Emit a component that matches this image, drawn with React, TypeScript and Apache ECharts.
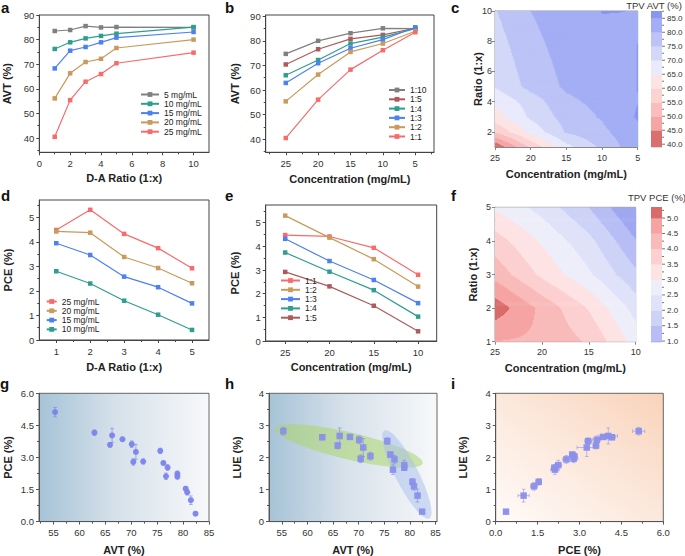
import React, { useEffect, useRef } from "react";
import * as echarts from "echarts";

// ---------------- data ----------------
const ratios = [1, 2, 3, 4, 5, 10];
const concentrations = [25, 20, 15, 10, 5];
// AVT (%) at D-A ratios 1,2,3,4,5,10 for each concentration
const avt5 = [83.5, 83.9, 85.5, 84.95, 85.1, 84.95];
const avt10 = [76.2, 78.9, 80.5, 81.5, 82.4, 85.1];
const avt15 = [68.3, 75.5, 77.0, 78.9, 80.8, 83.1];
const avt20 = [56.1, 66.3, 70.9, 72.2, 76.6, 80.0];
const avt25 = [40.5, 55.4, 62.9, 66.0, 70.4, 74.7];

const pceRatios = [1, 2, 3, 4, 5];
const pceConcentrations = [25, 20, 15, 10];
// PCE (%) at D-A ratios 1..5 for each concentration
const pce25 = [4.48, 5.3, 4.32, 3.74, 2.92];
const pce20 = [4.42, 4.37, 3.38, 2.93, 2.31];
const pce15 = [3.94, 3.46, 2.58, 2.15, 1.49];
const pce10 = [2.8, 2.3, 1.6, 1.03, 0.41];

// TPV devices (g, h, i)
const tpvAVT = [55.3, 62.9, 65.9, 66.3, 68.3, 70.1, 70.4, 70.9, 72.3, 75.6, 76.2, 76.7, 77.0, 78.9, 78.9, 80.5, 80.8, 81.5, 82.4];
const tpvPCE = [5.12, 4.16, 3.59, 4.03, 3.85, 3.62, 2.79, 3.26, 2.81, 3.31, 2.74, 2.12, 2.53, 2.24, 2.1, 1.54, 1.37, 1.0, 0.37];
const tpvLUE = [2.82, 2.63, 2.37, 2.67, 2.64, 2.55, 1.96, 2.31, 2.04, 2.51, 2.09, 1.62, 1.94, 1.76, 1.68, 1.24, 1.1, 0.81, 0.31];
const pceErr = [0.22, 0.12, 0.1, 0.33, 0.1, 0.15, 0.15, 0.35, 0.12, 0.12, 0.1, 0.15, 0.13, 0.12, 0.1, 0.1, 0.12, 0.2, 0.05];
const lueErr = [0.12, 0.08, 0.1, 0.25, 0.06, 0.12, 0.12, 0.28, 0.12, 0.1, 0.08, 0.15, 0.12, 0.15, 0.08, 0.1, 0.12, 0.2, 0.03];

// grouping ellipses in h: major-axis end points (AVT, LUE)
const ellipseGreen = [53.7, 2.9, 82.5, 1.82];
const ellipseBlue = [75.05, 2.84, 83.8, 0.1];

// contour levels
const avtLevels = [45, 50, 55, 60, 65, 70, 75, 80, 85];
const pceLevels = [1.0, 1.5, 2.0, 2.5, 3.0, 3.5, 4.0, 4.5, 5.0];

// tick labels
const aXTicks = [0, 2, 4, 6, 8, 10];
const avtTicks10 = [40, 50, 60, 70, 80, 90];
const concTicks5 = [25, 20, 15, 10, 5];
const concTicks4 = [25, 20, 15, 10];
const cRatioTicks = [2, 4, 6, 8, 10];
const ratioTicks5 = [1, 2, 3, 4, 5];
const pceTicks = [0, 1, 2, 3, 4, 5];
const avtScatterTicks = [55, 60, 65, 70, 75, 80, 85];
const pce15Ticks = [0, 1.5, 3, 4.5, 6];
const lueTicks = [0, 1, 2, 3, 4];
const cbAvtTicks = [40, 45, 50, 55, 60, 65, 70, 75, 80, 85];
const cbAvtMinor = [42.5, 47.5, 52.5, 57.5, 62.5, 67.5, 72.5, 77.5, 82.5, 87.5];
const cbPceTicks = [1.0, 1.5, 2.0, 2.5, 3.0, 3.5, 4.0, 4.5, 5.0];
const cbPceMinor = [1.25, 1.75, 2.25, 2.75, 3.25, 3.75, 4.25, 4.75, 5.25];

// ---------------- styles / layout ----------------
const FONT = "'Liberation Sans', Arial, Helvetica, sans-serif";
const C_GRAY = "#808080";
const C_TEAL = "#2f9e90";
const C_BLUE = "#4d80f0";
const C_TAN = "#c99a5b";
const C_RED = "#f76b6b";
const C_BROWN = "#ad5a5c";
const avtColors = ["#d8706f", "#f6a5a5", "#fabdbd", "#fcd3d3", "#fde4e4", "#e9eafb", "#d3d8f8", "#bcc3f6", "#a3aef4", "#8a97ee"];
const pceColors = ["#9ea7f0", "#b6bef5", "#cdd2f7", "#dfe2f9", "#eeeefb", "#fde3e3", "#fcd0d0", "#f9baba", "#f6a3a3", "#d96b6b"];
const CB1 = { left: 651, top: 11, width: 11, height: 136, min: 39, max: 87.6 };
const CB2 = { left: 651, top: 207, width: 11, height: 135, min: 0.97, max: 5.36 };

function levelIndex(v: number, levels: number[]) {
  let n = 0;
  for (const l of levels) if (v >= l) n++;
  return n;
}

type AxisSpec = {
  grid: number;
  min: number;
  max: number;
  ticks: number[];
  minor?: number[];
  inverse?: boolean;
  name?: string;
  gap?: number;
  dec?: number;
  pos?: string;
  color?: string;
  labelSize?: number;
  margin?: number;
};

function addAxis(list: any[], s: AxisSpec, isX: boolean): number {
  const idx = list.length;
  const line = s.color || "#444";
  const position = s.pos || (isX ? "bottom" : "left");
  const axis: any = {
    type: "value",
    gridIndex: s.grid,
    min: s.min,
    max: s.max,
    inverse: !!s.inverse,
    position,
    axisLine: { show: true, onZero: false, lineStyle: { color: line, width: 1 } },
    axisTick: { show: true, length: 3, customValues: s.ticks, lineStyle: { color: line, width: 1 } },
    axisLabel: {
      show: true,
      customValues: s.ticks,
      margin: s.margin ?? (isX ? 6 : 5),
      fontSize: s.labelSize ?? 9.5,
      color: "#333",
      fontFamily: FONT,
      hideOverlap: false,
      formatter: (v: number) => (s.dec ? Number(v).toFixed(s.dec) : String(v)),
    },
    splitLine: { show: false },
  };
  if (s.name) {
    axis.name = s.name;
    axis.nameLocation = "middle";
    axis.nameGap = s.gap;
    axis.nameRotate = isX ? 0 : 90;
    axis.nameMoveOverlap = false;
    axis.nameTextStyle = { fontFamily: FONT, fontSize: 11, fontWeight: "bold", color: "#222" };
  }
  list.push(axis);
  if (s.minor) {
    list.push({
      type: "value",
      gridIndex: s.grid,
      min: s.min,
      max: s.max,
      inverse: !!s.inverse,
      position,
      axisLine: { show: false, onZero: false },
      axisTick: { show: true, length: 2, customValues: s.minor, lineStyle: { color: line, width: 1 } },
      axisLabel: { show: false },
      splitLine: { show: false },
    });
  }
  return idx;
}

function lineSeries(name: string, color: string, xi: number, yi: number, xs: number[], ys: number[]) {
  return {
    type: "line",
    name,
    xAxisIndex: xi,
    yAxisIndex: yi,
    data: xs.map((x, k) => [x, ys[k]]),
    symbol: "rect",
    symbolSize: 4.5,
    lineStyle: { color, width: 1.2 },
    itemStyle: { color },
    color,
  };
}

function contourSeries(xi: number, yi: number, xs: number[], ys: number[], vals: number[][], levels: number[], colors: string[]) {
  const data: number[][] = [];
  for (let i = 0; i < xs.length - 1; i++) for (let j = 0; j < ys.length - 1; j++) data.push([xs[i], ys[j], i, j]);
  return {
    type: "custom",
    xAxisIndex: xi,
    yAxisIndex: yi,
    clip: true,
    silent: true,
    encode: { x: 0, y: 1 },
    data,
    renderItem: (params: any, api: any) => {
      const i = api.value(2) as number;
      const j = api.value(3) as number;
      const pA = api.coord([xs[i], ys[j]]);
      const pB = api.coord([xs[i + 1], ys[j + 1]]);
      const v00 = vals[i][j], v10 = vals[i + 1][j], v01 = vals[i][j + 1], v11 = vals[i + 1][j + 1];
      const left = Math.min(pA[0], pB[0]), right = Math.max(pA[0], pB[0]);
      const top = Math.min(pA[1], pB[1]), bottom = Math.max(pA[1], pB[1]);
      const w = right - left, h = bottom - top;
      const nc = Math.max(1, Math.round(w)), nr = Math.max(1, Math.round(h));
      const cw = w / nc, rh = h / nr;
      const children: any[] = [];
      for (let r = 0; r < nr; r++) {
        const py = top + (r + 0.5) * rh;
        const t = (py - pA[1]) / (pB[1] - pA[1]);
        let start = 0;
        let cur = -1;
        for (let c = 0; c <= nc; c++) {
          let lvl = -1;
          if (c < nc) {
            const px = left + (c + 0.5) * cw;
            const s = (px - pA[0]) / (pB[0] - pA[0]);
            const v = v00 * (1 - s) * (1 - t) + v10 * s * (1 - t) + v01 * (1 - s) * t + v11 * s * t;
            lvl = levelIndex(v, levels);
          }
          if (c === 0) {
            cur = lvl;
            continue;
          }
          if (lvl !== cur) {
            children.push({
              type: "rect",
              shape: { x: left + start * cw, y: top + r * rh, width: (c - start) * cw + 0.7, height: rh + 0.7 },
              style: { fill: colors[cur] },
            });
            start = c;
            cur = lvl;
          }
        }
      }
      return { type: "group", children };
    },
  };
}

function colorbarSeries(xi: number, yi: number, levels: number[], colors: string[], lo: number, hi: number) {
  return {
    type: "custom",
    xAxisIndex: xi,
    yAxisIndex: yi,
    silent: true,
    encode: { x: 0, y: 1 },
    data: colors.map((c, k) => [0, k === 0 ? lo : levels[k - 1], k]),
    renderItem: (params: any, api: any) => {
      const k = api.value(2) as number;
      const b = k === 0 ? lo : levels[k - 1];
      const t = k === levels.length ? hi : levels[k];
      const p0 = api.coord([0, b]);
      const p1 = api.coord([1, t]);
      return {
        type: "rect",
        shape: { x: p0[0], y: p1[1], width: p1[0] - p0[0], height: p0[1] - p1[1] + 0.3 },
        style: { fill: colors[k] },
      };
    },
  };
}

function colorbarTickSeries(xi: number, yi: number, ticks: number[], minors: number[]) {
  return {
    type: "custom",
    xAxisIndex: xi,
    yAxisIndex: yi,
    silent: true,
    encode: { x: 0, y: 1 },
    data: [...ticks.map((v) => [1, v, 3]), ...minors.map((v) => [1, v, 2])],
    renderItem: (params: any, api: any) => {
      const v = api.value(1) as number;
      const len = api.value(2) as number;
      const p = api.coord([1, v]);
      return { type: "line", shape: { x1: p[0], y1: p[1], x2: p[0] + len, y2: p[1] }, style: { stroke: "#777", lineWidth: 1 } };
    },
  };
}

// colorbar tick labels: one multi-line text, line pitch = one level step
function colorbarLabels(cb: typeof CB1, ticks: number[]) {
  const desc = [...ticks].sort((a, b) => b - a);
  const step = desc[0] - desc[1];
  const lh = (step / (cb.max - cb.min)) * cb.height;
  const yTop = cb.top + ((cb.max - desc[0]) / (cb.max - cb.min)) * cb.height - lh / 2;
  return {
    type: "text",
    x: cb.left + cb.width + 5,
    y: yTop,
    style: {
      text: desc.map((v) => v.toFixed(1)).join("\n"),
      font: `8px ${FONT}`,
      lineHeight: lh,
      fill: "#333",
      textAlign: "left",
      textVerticalAlign: "top",
    },
  };
}

function errorSeries(xi: number, yi: number, xs: number[], ys: number[], errs: number[], vertical: boolean, color: string) {
  return {
    type: "custom",
    xAxisIndex: xi,
    yAxisIndex: yi,
    silent: true,
    z: 3,
    encode: { x: 0, y: 1 },
    data: xs.map((x, k) => [x, ys[k], errs[k]]),
    renderItem: (params: any, api: any) => {
      const x = api.value(0), y = api.value(1), e = api.value(2);
      const p0 = vertical ? api.coord([x, y - e]) : api.coord([x - e, y]);
      const p1 = vertical ? api.coord([x, y + e]) : api.coord([x + e, y]);
      const cap = 1.8;
      const st = { stroke: color, lineWidth: 0.9 };
      const capLine = (p: number[]) =>
        vertical
          ? { type: "line", shape: { x1: p[0] - cap, y1: p[1], x2: p[0] + cap, y2: p[1] }, style: st }
          : { type: "line", shape: { x1: p[0], y1: p[1] - cap, x2: p[0], y2: p[1] + cap }, style: st };
      return {
        type: "group",
        children: [
          { type: "line", shape: { x1: p0[0], y1: p0[1], x2: p1[0], y2: p1[1] }, style: st },
          capLine(p0),
          capLine(p1),
        ],
      };
    },
  };
}

function ellipseSeries(xi: number, yi: number) {
  const fills = ["rgba(172,214,105,0.55)", "rgba(165,190,236,0.5)"];
  const widthRatio = [0.178, 0.232];
  return {
    type: "custom",
    xAxisIndex: xi,
    yAxisIndex: yi,
    silent: true,
    z: 1,
    encode: { x: 0, y: 1 },
    data: [
      [...ellipseGreen, 0],
      [...ellipseBlue, 1],
    ],
    renderItem: (params: any, api: any) => {
      const k = api.value(4) as number;
      const a = api.coord([api.value(0), api.value(1)]);
      const b = api.coord([api.value(2), api.value(3)]);
      const cx = (a[0] + b[0]) / 2, cy = (a[1] + b[1]) / 2;
      const dx = b[0] - a[0], dy = b[1] - a[1];
      const L = Math.hypot(dx, dy) / 2;
      const rb = L * widthRatio[k];
      const ang = Math.atan2(dy, dx);
      const ca = Math.cos(ang), sa = Math.sin(ang);
      const pts: number[][] = [];
      for (let n = 0; n < 72; n++) {
        const th = (n / 72) * Math.PI * 2;
        const ex = L * Math.cos(th), ey = rb * Math.sin(th);
        pts.push([cx + ex * ca - ey * sa, cy + ex * sa + ey * ca]);
      }
      return { type: "polygon", shape: { points: pts }, style: { fill: fills[k] } };
    },
  };
}

function buildOption() {
  const base = { show: true, borderColor: "#444", borderWidth: 1, backgroundColor: "transparent", containLabel: false };
  const gradBlue = {
    type: "linear", x: 0, y: 0, x2: 1, y2: 0,
    colorStops: [
      { offset: 0, color: "#a6c3d7" },
      { offset: 0.45, color: "#d6e1ea" },
      { offset: 1, color: "#f7f8fa" },
    ],
  };
  const gradPeach = {
    type: "linear", x: 1, y: 0, x2: 0, y2: 1,
    colorStops: [
      { offset: 0, color: "#f9d3ba" },
      { offset: 0.5, color: "#fce8dc" },
      { offset: 1, color: "#fffbf8" },
    ],
  };
  const grid = [
    { ...base, left: 39.3, top: 15, width: 169.7, height: 137.3 },
    { ...base, left: 265.7, top: 15, width: 168.3, height: 137.3 },
    { ...base, left: 495, top: 11, width: 142.7, height: 136, borderColor: "#999" },
    { ...base, left: 39.3, top: 200, width: 169.7, height: 140 },
    { ...base, left: 265.7, top: 205, width: 171, height: 136 },
    { ...base, left: 495, top: 207.3, width: 140.7, height: 134.4, borderColor: "#999" },
    { ...base, left: 39, top: 393.3, width: 170, height: 136, backgroundColor: gradBlue, borderColor: "#666" },
    { ...base, left: 269, top: 393.3, width: 168, height: 136, backgroundColor: gradBlue, borderColor: "#666" },
    { ...base, left: 495.7, top: 393.3, width: 167.6, height: 136, backgroundColor: gradPeach, borderColor: "#666" },
    { ...base, left: CB1.left, top: CB1.top, width: CB1.width, height: CB1.height, borderWidth: 0 },
    { ...base, left: CB2.left, top: CB2.top, width: CB2.width, height: CB2.height, borderWidth: 0 },
  ];

  const xAxis: any[] = [];
  const yAxis: any[] = [];

  const xa = addAxis(xAxis, { grid: 0, min: 0, max: 11, ticks: aXTicks, minor: [1, 3, 5, 7, 9], name: "D-A Ratio (1:x)", gap: 19.7 }, true);
  const ya = addAxis(yAxis, { grid: 0, min: 34.2, max: 90, ticks: avtTicks10, minor: [35, 45, 55, 65, 75, 85], name: "AVT (%)", gap: 27 }, false);

  const xb = addAxis(xAxis, { grid: 1, min: 2.1, max: 28.1, inverse: true, ticks: concTicks5, minor: [27.5, 22.5, 17.5, 12.5, 7.5, 2.5], name: "Concentration (mg/mL)", gap: 21.4 }, true);
  const yb = addAxis(yAxis, { grid: 1, min: 34.7, max: 90.5, ticks: avtTicks10, minor: [35, 45, 55, 65, 75, 85], name: "AVT (%)", gap: 25.7 }, false);

  const xc = addAxis(xAxis, { grid: 2, min: 5, max: 25, inverse: true, ticks: concTicks5, name: "Concentration (mg/mL)", gap: 21.3, color: "#888", labelSize: 9 }, true);
  const yc = addAxis(yAxis, { grid: 2, min: 1, max: 10, ticks: cRatioTicks, name: "Ratio (1:x)", gap: 11.5, color: "#888", labelSize: 9, margin: 3 }, false);

  const xd = addAxis(xAxis, { grid: 3, min: 0.5, max: 5.5, ticks: ratioTicks5, minor: [1.5, 2.5, 3.5, 4.5], name: "D-A Ratio (1:x)", gap: 21.7 }, true);
  const yd = addAxis(yAxis, { grid: 3, min: 0, max: 5.7, ticks: pceTicks, minor: [0.5, 1.5, 2.5, 3.5, 4.5, 5.5], name: "PCE (%)", gap: 26 }, false);

  const xe = addAxis(xAxis, { grid: 4, min: 7.9, max: 27.2, inverse: true, ticks: concTicks4, minor: [22.5, 17.5, 12.5], name: "Concentration (mg/mL)", gap: 20.7 }, true);
  const ye = addAxis(yAxis, { grid: 4, min: 0, max: 5.75, ticks: pceTicks, minor: [0.5, 1.5, 2.5, 3.5, 4.5, 5.5], name: "PCE (%)", gap: 25.7 }, false);

  const xf = addAxis(xAxis, { grid: 5, min: 10, max: 25, inverse: true, ticks: concTicks4, name: "Concentration (mg/mL)", gap: 20.6, color: "#888", labelSize: 9 }, true);
  const yf = addAxis(yAxis, { grid: 5, min: 1, max: 5, ticks: ratioTicks5, name: "Ratio (1:x)", gap: 17, color: "#888", labelSize: 9, margin: 4 }, false);

  const xg = addAxis(xAxis, { grid: 6, min: 52.2, max: 85, ticks: avtScatterTicks, minor: [52.5, 57.5, 62.5, 67.5, 72.5, 77.5, 82.5], name: "AVT (%)", gap: 22.4, color: "#555" }, true);
  const yg = addAxis(yAxis, { grid: 6, min: 0, max: 6, ticks: pce15Ticks, minor: [0.75, 2.25, 3.75, 5.25], dec: 1, name: "PCE (%)", gap: 26, color: "#555" }, false);

  const xh = addAxis(xAxis, { grid: 7, min: 52.5, max: 85.3, ticks: avtScatterTicks, minor: [57.5, 62.5, 67.5, 72.5, 77.5, 82.5], name: "AVT (%)", gap: 22.4, color: "#555" }, true);
  const yh = addAxis(yAxis, { grid: 7, min: 0, max: 4, ticks: lueTicks, minor: [0.5, 1.5, 2.5, 3.5], name: "LUE (%)", gap: 27, color: "#555" }, false);

  const xi = addAxis(xAxis, { grid: 8, min: 0, max: 6, ticks: pce15Ticks, minor: [0.75, 2.25, 3.75, 5.25], dec: 1, name: "PCE (%)", gap: 22.4, color: "#555" }, true);
  const yi = addAxis(yAxis, { grid: 8, min: 0, max: 4, ticks: lueTicks, minor: [0.5, 1.5, 2.5, 3.5], name: "LUE (%)", gap: 27.4, color: "#555" }, false);

  const xcb1 = xAxis.length;
  xAxis.push({ type: "value", gridIndex: 9, min: 0, max: 1, show: false });
  const ycb1 = yAxis.length;
  yAxis.push({ type: "value", gridIndex: 9, min: CB1.min, max: CB1.max, show: false });
  const xcb2 = xAxis.length;
  xAxis.push({ type: "value", gridIndex: 10, min: 0, max: 1, show: false });
  const ycb2 = yAxis.length;
  yAxis.push({ type: "value", gridIndex: 10, min: CB2.min, max: CB2.max, show: false });

  const avtByConc = [avt25, avt20, avt15, avt10, avt5];
  const pceByConc = [pce25, pce20, pce15, pce10];

  const series: any[] = [
    // a
    lineSeries("5 mg/mL", C_GRAY, xa, ya, ratios, avt5),
    lineSeries("10 mg/mL", C_TEAL, xa, ya, ratios, avt10),
    lineSeries("15 mg/mL", C_BLUE, xa, ya, ratios, avt15),
    lineSeries("20 mg/mL", C_TAN, xa, ya, ratios, avt20),
    lineSeries("25 mg/mL", C_RED, xa, ya, ratios, avt25),
    // b
    lineSeries("1:10", C_GRAY, xb, yb, concentrations, avtByConc.map((r) => r[5])),
    lineSeries("1:5", C_BROWN, xb, yb, concentrations, avtByConc.map((r) => r[4])),
    lineSeries("1:4", C_TEAL, xb, yb, concentrations, avtByConc.map((r) => r[3])),
    lineSeries("1:3", C_BLUE, xb, yb, concentrations, avtByConc.map((r) => r[2])),
    lineSeries("1:2", C_TAN, xb, yb, concentrations, avtByConc.map((r) => r[1])),
    lineSeries("1:1", C_RED, xb, yb, concentrations, avtByConc.map((r) => r[0])),
    // c
    contourSeries(xc, yc, concentrations, ratios, avtByConc, avtLevels, avtColors),
    colorbarSeries(xcb1, ycb1, avtLevels, avtColors, CB1.min, CB1.max),
    colorbarTickSeries(xcb1, ycb1, cbAvtTicks, cbAvtMinor),
    // d
    lineSeries("25 mg/mL", C_RED, xd, yd, pceRatios, pce25),
    lineSeries("20 mg/mL", C_TAN, xd, yd, pceRatios, pce20),
    lineSeries("15 mg/mL", C_BLUE, xd, yd, pceRatios, pce15),
    lineSeries("10 mg/mL", C_TEAL, xd, yd, pceRatios, pce10),
    // e
    lineSeries("1:1", C_RED, xe, ye, pceConcentrations, pceByConc.map((r) => r[0])),
    lineSeries("1:2", C_TAN, xe, ye, pceConcentrations, pceByConc.map((r) => r[1])),
    lineSeries("1:3", C_BLUE, xe, ye, pceConcentrations, pceByConc.map((r) => r[2])),
    lineSeries("1:4", C_TEAL, xe, ye, pceConcentrations, pceByConc.map((r) => r[3])),
    lineSeries("1:5", C_BROWN, xe, ye, pceConcentrations, pceByConc.map((r) => r[4])),
    // f
    contourSeries(xf, yf, pceConcentrations, pceRatios, pceByConc, pceLevels, pceColors),
    colorbarSeries(xcb2, ycb2, pceLevels, pceColors, CB2.min, CB2.max),
    colorbarTickSeries(xcb2, ycb2, cbPceTicks, cbPceMinor),
    // g
    errorSeries(xg, yg, tpvAVT, tpvPCE, pceErr, true, "rgba(120,130,232,0.7)"),
    {
      type: "scatter", xAxisIndex: xg, yAxisIndex: yg, z: 4, symbol: "circle", symbolSize: 6,
      data: tpvAVT.map((x, k) => [x, tpvPCE[k]]),
      itemStyle: { color: "#7b84ec", opacity: 0.95 },
    },
    // h
    ellipseSeries(xh, yh),
    errorSeries(xh, yh, tpvAVT, tpvLUE, lueErr, true, "rgba(130,138,232,0.7)"),
    {
      type: "scatter", xAxisIndex: xh, yAxisIndex: yh, z: 4, symbol: "rect", symbolSize: 6.5,
      data: tpvAVT.map((x, k) => [x, tpvLUE[k]]),
      itemStyle: { color: "#8a90ea", opacity: 0.95 },
    },
    // i
    errorSeries(xi, yi, tpvPCE, tpvLUE, pceErr, false, "rgba(150,155,235,0.7)"),
    errorSeries(xi, yi, tpvPCE, tpvLUE, lueErr, true, "rgba(150,155,235,0.7)"),
    {
      type: "scatter", xAxisIndex: xi, yAxisIndex: yi, z: 4, symbol: "rect", symbolSize: 6.5,
      data: tpvPCE.map((x, k) => [x, tpvLUE[k]]),
      itemStyle: { color: "#8a90ea", opacity: 0.95 },
    },
  ];

  const legendBase = {
    orient: "vertical",
    selectedMode: false,
    padding: 0,
    itemHeight: 6,
    itemGap: 0.3,
    textStyle: { fontSize: 8.5, fontFamily: FONT, color: "#222", lineHeight: 9 },
  };
  const legend = [
    { ...legendBase, left: 140, top: 90, itemWidth: 18, data: ["5 mg/mL", "10 mg/mL", "15 mg/mL", "20 mg/mL", "25 mg/mL"] },
    { ...legendBase, left: 388, top: 85.5, itemWidth: 16, data: ["1:10", "1:5", "1:4", "1:3", "1:2", "1:1"] },
    { ...legendBase, left: 45.7, top: 297, itemWidth: 10, data: ["25 mg/mL", "20 mg/mL", "15 mg/mL", "10 mg/mL"] },
    { ...legendBase, left: 280, top: 276, itemWidth: 19, data: ["1:1", "1:2", "1:3", "1:4", "1:5"] },
  ];

  const letters: [string, number, number][] = [
    ["a", 1, 0], ["b", 225, 0], ["c", 451, 0],
    ["d", 1, 188], ["e", 225, 188], ["f", 451, 188],
    ["g", 0, 376], ["h", 225, 376], ["i", 451, 376],
  ];
  const graphic: any[] = letters.map(([t, x, y]) => ({
    type: "text", x, y,
    style: { text: t, font: `bold 15px ${FONT}`, fill: "#111", textVerticalAlign: "top" },
  }));
  graphic.push({ type: "text", x: 654, y: 0, style: { text: "TPV AVT (%)", font: `9.5px ${FONT}`, fill: "#333", textAlign: "center", textVerticalAlign: "top" } });
  graphic.push({ type: "text", x: 657, y: 192, style: { text: "TPV PCE (%)", font: `9.5px ${FONT}`, fill: "#333", textAlign: "center", textVerticalAlign: "top" } });
  graphic.push(colorbarLabels(CB1, cbAvtTicks));
  graphic.push(colorbarLabels(CB2, cbPceTicks));

  return {
    animation: false,
    backgroundColor: "#ffffff",
    textStyle: { fontFamily: FONT },
    grid,
    xAxis,
    yAxis,
    legend,
    series,
    graphic,
  };
}

export default function App() {
  const ref = useRef<HTMLDivElement>(null);
  useEffect(() => {
    document.body.style.margin = "0";
    const chart = echarts.init(ref.current!, null, { renderer: "svg" });
    chart.setOption(buildOption() as any);
    return () => chart.dispose();
  }, []);
  return <div ref={ref} style={{ width: 685, height: 556 }} />;
}
